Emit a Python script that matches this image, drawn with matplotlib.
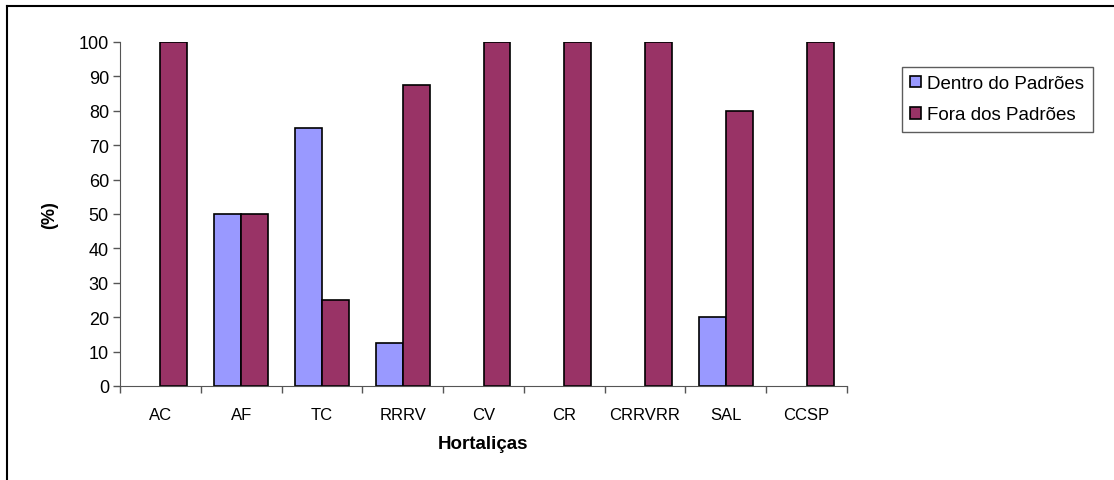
import matplotlib
matplotlib.use("Agg")
import matplotlib.pyplot as plt
import numpy as np
from matplotlib.lines import Line2D
from matplotlib.patches import Patch

plt.rcParams['font.family'] = ['Liberation Sans', 'DejaVu Sans']

categories = ["AC", "AF", "TC", "RRRV", "CV", "CR", "CRRVRR", "SAL", "CCSP"]
dentro = [0, 50, 75, 12.5, 0, 0, 0, 20, 0]
fora = [100, 50, 25, 87.5, 100, 100, 100, 80, 100]
series_names = ["Dentro do Padrões", "Fora dos Padrões"]
colors = ["#9999FF", "#993366"]

W, H = 1114, 481
fig = plt.figure(figsize=(W / 100, H / 100), dpi=100)
ax = fig.add_axes([120 / W, 1 - 387 / H, (847 - 120) / W, (387 - 43) / H])

x = np.arange(len(categories))
bw = 1 / 3
for offset, vals, col in [(-bw / 2, dentro, colors[0]), (bw / 2, fora, colors[1])]:
    edges = ["black" if v > 0 else "none" for v in vals]
    ax.bar(x + offset, vals, width=bw, color=col, edgecolor=edges, linewidth=1.2)

ax.set_xlim(-0.5, len(categories) - 0.5)
ax.set_ylim(0, 100)
ax.set_yticks(np.arange(0, 101, 10))
ax.tick_params(axis="y", direction="out", length=5, width=1, color="#555555",
               labelsize=13, pad=3)

ax.set_xticks(x)
ax.set_xticklabels(categories)
ax.set_xticks(np.arange(-0.5, len(categories), 1), minor=True)
ax.tick_params(axis="x", which="major", length=0, labelsize=12, pad=15)
ax.tick_params(axis="x", which="minor", direction="out", length=5, width=1, color="#555555")

for s in ["top", "right"]:
    ax.spines[s].set_visible(False)
ax.spines["left"].set_color("#555555")
ax.spines["bottom"].set_color("#555555")

fig.text(50 / W, 1 - 215 / H, "(%)", rotation=90, ha="center", va="center",
         fontsize=13, fontweight="bold")
fig.text(483 / W, 1 - 445 / H, "Hortaliças", ha="center", va="center",
         fontsize=13.5, fontweight="bold")

handles = [Patch(facecolor=c, edgecolor="black", linewidth=1.2) for c in colors]
leg = fig.legend(handles, series_names, loc="upper left",
                 bbox_to_anchor=(902 / W, 1 - 68 / H), fontsize=13.5,
                 frameon=True, fancybox=False, handlelength=0.55, handleheight=0.55,
                 handletextpad=0.35, borderpad=0.45, labelspacing=0.75,
                 borderaxespad=0)
leg.get_frame().set_edgecolor("#333333")
leg.get_frame().set_linewidth(1)

# outer chart frame
fig.add_artist(Line2D([7 / W, 7 / W], [0, 1 - 7 / H], color="black", linewidth=1.5,
                      transform=fig.transFigure))
fig.add_artist(Line2D([7 / W, 1], [1 - 7 / H, 1 - 7 / H], color="black", linewidth=1.5,
                      transform=fig.transFigure))

fig.savefig("out.png", dpi=100)
